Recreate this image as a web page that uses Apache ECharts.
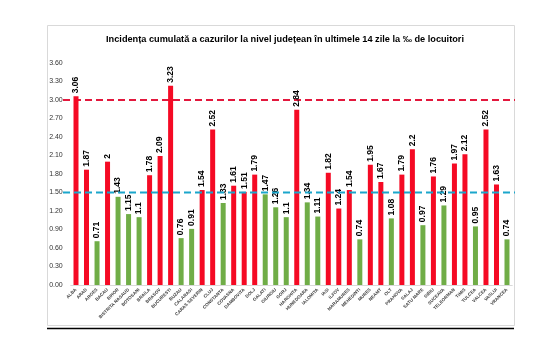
<!DOCTYPE html>
<html>
<head>
    <meta charset="utf-8" />
    <title></title>
    <style>
        html, body {
            margin: 0;
            padding: 0;
            background: #fff;
        }

        #chart {
            width: 556px;
            height: 350px;
        }
    </style>
    <script src="https://cdn.jsdelivr.net/npm/echarts@6/dist/echarts.min.js"></script>
</head>
<body>
    <div id="chart"></div>
    <script>
        var judete = ['ALBA', 'ARAD', 'ARGES', 'BACAU', 'BIHOR', 'BISTRITA NASAUD', 'BOTOSANI', 'BRAILA', 'BRASOV', 'BUCURESTI',
            'BUZAU', 'CALARASI', 'CARAS SEVERIN', 'CLUJ', 'CONSTANTA', 'COVASNA', 'DAMBOVITA', 'DOLJ', 'GALATI', 'GIURGIU',
            'GORJ', 'HARGHITA', 'HUNEDOARA', 'IALOMITA', 'IASI', 'ILFOV', 'MARAMURES', 'MEHEDINTI', 'MURES', 'NEAMT',
            'OLT', 'PRAHOVA', 'SALAJ', 'SATU MARE', 'SIBIU', 'SUCEAVA', 'TELEORMAN', 'TIMIS', 'TULCEA', 'VALCEA',
            'VASLUI', 'VRANCEA'];
        var incidenta = [3.06, 1.87, 0.71, 2, 1.43, 1.15, 1.1, 1.78, 2.09, 3.23,
            0.76, 0.91, 1.54, 2.52, 1.33, 1.61, 1.51, 1.79, 1.47, 1.26,
            1.1, 2.84, 1.34, 1.11, 1.82, 1.24, 1.54, 0.74, 1.95, 1.67,
            1.08, 1.79, 2.2, 0.97, 1.76, 1.29, 1.97, 2.12, 0.95, 2.52,
            1.63, 0.74];
        // r = rosu, v = verde (culoarea din grafic)
        var culori = ['r', 'r', 'v', 'r', 'v', 'v', 'v', 'r', 'r', 'r',
            'v', 'v', 'r', 'r', 'v', 'r', 'r', 'r', 'v', 'v',
            'v', 'r', 'v', 'v', 'r', 'r', 'r', 'v', 'r', 'r',
            'v', 'r', 'r', 'v', 'r', 'v', 'r', 'r', 'v', 'r',
            'r', 'v'];
        var pragRosu = 3;
        var pragAlbastru = 1.5;
        var yTicks = { min: 0, max: 3.6, interval: 0.3 };

        var ROSU = '#F50A24';
        var VERDE = '#70AD47';

        var barData = [];
        for (var i = 0; i < incidenta.length; i++) {
            barData.push({
                value: incidenta[i],
                itemStyle: { color: culori[i] === 'r' ? ROSU : VERDE }
            });
        }

        var myChart = echarts.init(document.getElementById('chart'));
        var option = {
            animation: false,
            backgroundColor: '#fff',
            title: {
                text: 'Incidența cumulată a cazurilor la nivel județean în ultimele 14 zile la ‰ de locuitori',
                left: 280,
                textAlign: 'center',
                top: 30,
                textStyle: {
                    fontFamily: 'Liberation Sans',
                    fontSize: 9.2,
                    fontWeight: 'bold',
                    color: '#000'
                }
            },
            graphic: [
                {
                    type: 'rect',
                    shape: { x: 47.5, y: 25.5, width: 467, height: 300 },
                    style: { fill: 'none', stroke: '#D9D9D9', lineWidth: 1 },
                    z: -1
                },
                {
                    type: 'line',
                    shape: { x1: 47, y1: 328.5, x2: 514, y2: 328.5 },
                    style: { stroke: '#000', lineWidth: 1.5 }
                }
            ],
            grid: [
                { left: 70.75, right: 43.75, top: 63, bottom: 65 },
                { left: 63, right: 41, top: 63, bottom: 65 }
            ],
            xAxis: [
                {
                    type: 'category',
                    gridIndex: 0,
                    data: judete,
                    axisTick: { show: false },
                    axisLine: { lineStyle: { color: '#D9D9D9' } },
                    axisLabel: {
                        interval: 0,
                        rotate: 45,
                        fontSize: 4.5,
                        fontWeight: 'bold',
                        fontFamily: 'Liberation Sans',
                        color: '#404040',
                        margin: 4
                    }
                },
                {
                    type: 'value',
                    gridIndex: 1,
                    min: 0,
                    max: 1,
                    show: false
                }
            ],
            yAxis: [
                {
                    type: 'value',
                    gridIndex: 0,
                    min: yTicks.min,
                    max: yTicks.max,
                    interval: yTicks.interval,
                    splitLine: { show: false },
                    axisLine: { show: false },
                    axisTick: { show: false },
                    axisLabel: {
                        formatter: function (v) { return v.toFixed(2); },
                        fontSize: 7,
                        fontFamily: 'Liberation Sans',
                        color: '#333',
                        margin: 8
                    }
                },
                {
                    type: 'value',
                    gridIndex: 1,
                    min: yTicks.min,
                    max: yTicks.max,
                    show: false
                }
            ],
            series: [
                {
                    type: 'bar',
                    xAxisIndex: 0,
                    yAxisIndex: 0,
                    barWidth: 5,
                    data: barData,
                    label: {
                        show: true,
                        position: 'top',
                        rotate: 90,
                        align: 'left',
                        verticalAlign: 'middle',
                        distance: 3,
                        fontSize: 8.5,
                        fontWeight: 'bold',
                        fontFamily: 'Liberation Sans',
                        color: '#000'
                    },
                    z: 2
                },
                {
                    type: 'line',
                    xAxisIndex: 1,
                    yAxisIndex: 1,
                    symbol: 'none',
                    data: [[0, pragRosu], [1, pragRosu]],
                    lineStyle: { color: '#E3183D', width: 1.8, type: [7, 4] },
                    z: 1
                },
                {
                    type: 'line',
                    xAxisIndex: 1,
                    yAxisIndex: 1,
                    symbol: 'none',
                    data: [[0, pragAlbastru], [1, pragAlbastru]],
                    lineStyle: { color: '#1BA6CB', width: 1.8, type: [7, 4] },
                    z: 3
                }
            ]
        };
        myChart.setOption(option);
    </script>
</body>
</html>
